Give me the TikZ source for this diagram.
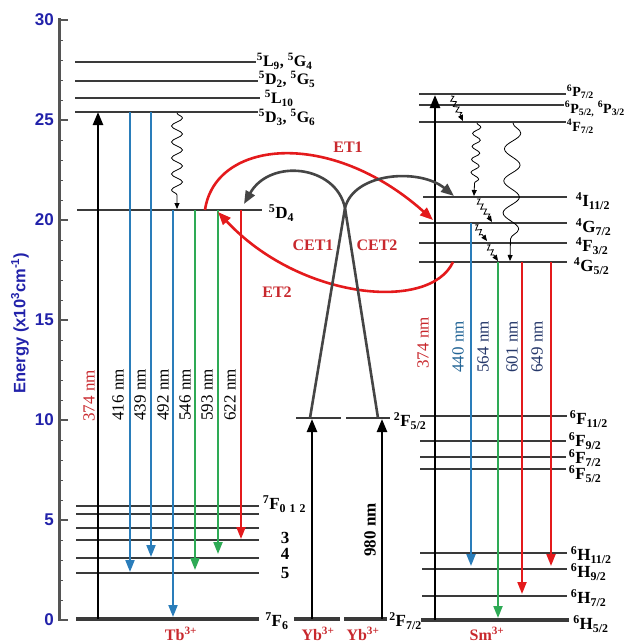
\documentclass[tikz,border=0pt]{standalone}
\usepackage{fontspec}
\setmainfont{Liberation Serif}
\setsansfont{Liberation Sans}
\usetikzlibrary{arrows.meta,decorations.pathmorphing}
\definecolor{lvlc}{HTML}{3A3A3A}
\definecolor{axc}{HTML}{555555}
\definecolor{axblue}{HTML}{2222AA}
\definecolor{eblue}{HTML}{2A7DBA}
\definecolor{egreen}{HTML}{2EAA55}
\definecolor{ered}{HTML}{E41A1C}
\definecolor{lred}{HTML}{C8282D}
\definecolor{navy}{HTML}{26386A}
\definecolor{cetc}{HTML}{454545}
\newcommand{\trm}[3]{\textsuperscript{#1}#2\textsubscript{#3}}
\newcommand{\fsz}{\fontsize{16}{18}\selectfont}
\newcommand{\fsl}{\fontsize{17}{19}\selectfont}
\begin{document}
\begin{tikzpicture}[x=1pt,y=-1pt,
  lvl/.style={draw=lvlc,line width=1.8},
  gnd/.style={draw=lvlc,line width=4.5},
  lab/.style={anchor=west,inner sep=0,font=\bfseries\fsl,text=black},
  tlab/.style={lab,font=\bfseries\fontsize{16}{18}\selectfont},
  plab/.style={lab,font=\bfseries\fontsize{14}{16}\selectfont},
  exc/.style={draw=black,line width=2.4,-{Triangle[length=13,width=10]}},
  emis/.style={line width=2,-{Triangle[length=12,width=9]}},
  wav/.style={draw=black,line width=0.8,decorate,-{Triangle[length=6,width=5]}},
  nm/.style={rotate=90,inner sep=0,font=\fsl},
  etarr/.style={draw=ered,line width=2.6,-{Triangle[length=13,width=10]}},
  cetarr/.style={draw=cetc,line width=2.6,-{Triangle[length=13,width=10]}},
  etlab/.style={text=lred,font=\bfseries\fsz,inner sep=0},
  ion/.style={text=lred,font=\bfseries\fsz,anchor=north,inner sep=0}]
\useasboundingbox (0,0) rectangle (632,643);
% axis
\draw[draw=axc,line width=3] (59,18) -- (59,621);
\foreach \e in {0,1,...,30}{
  \draw[draw=axc,line width=1] (59,{620-20*\e}) -- (63,{620-20*\e});}
\foreach \e in {0,5,...,30}{
  \draw[draw=axc,line width=1.5] (59,{620-20*\e}) -- (68,{620-20*\e});
  \node[anchor=east,inner sep=0,text=axblue,font=\sffamily\bfseries\fontsize{17}{19}\selectfont] (t\e) at (54,{620-20*\e}) {\e};}
\node[rotate=90,inner sep=0,text=axblue,font=\sffamily\bfseries\fontsize{16.5}{18}\selectfont] (ylab) at (20,323) {Energy (x10\textsuperscript{3}cm\textsuperscript{-1})};
% Tb levels
\draw[lvl] (75,62) -- (256,62) node[tlab,yshift=1] (lL9) {\trm{5}{L}{9}, \trm{5}{G}{4}};
\draw[lvl] (75,81) -- (258,81) node[tlab,yshift=2] (lD2) {\trm{5}{D}{2}, \trm{5}{G}{5}};
\draw[lvl] (75,98) -- (260,98) node[tlab,xshift=4,yshift=0] (lL10) {\trm{5}{L}{10}};
\draw[lvl] (75,112) -- (258,112) node[tlab,yshift=-5.5] (lD3) {\trm{5}{D}{3}, \trm{5}{G}{6}};
\draw[lvl] (77,210) -- (262,210) node[lab,xshift=6,yshift=-3] (lD4) {\trm{5}{D}{4}};
\draw[lvl] (76,506) -- (259,506) node[lab,xshift=3,yshift=2] (lF0) {\trm{7}{F}{0\,\,1\,\,2}};
\draw[lvl] (76,514) -- (259,514);
\draw[lvl] (76,528) -- (259,528);
\draw[lvl] (76,540) -- (259,540);
\draw[lvl] (76,558) -- (259,558);
\draw[lvl] (76,573) -- (259,573);
\node[lab,anchor=center] (lF3) at (285,538) {3};
\node[lab,anchor=center] (lF4) at (285,554) {4};
\node[lab,anchor=center] (lF5) at (285,573) {5};
\draw[gnd] (76,619) -- (259,619) node[lab,xshift=4,yshift=-2] (lF6) {\trm{7}{F}{6}};
% Yb levels
\draw[lvl] (296,418) -- (341,418);
\draw[lvl] (346,418) -- (390,418) node[lab,xshift=3,yshift=-3] (lF52) {\trm{2}{F}{5/2}};
\draw[gnd] (294,619) -- (340,619);
\draw[gnd] (344,619) -- (387,619) node[lab,xshift=0,yshift=-2] (lF72) {\trm{2}{F}{7/2}};
% Sm levels
\draw[lvl] (419,94) -- (566,94) node[plab,yshift=2] (lP7) {\trm{6}{P}{7/2}};
\draw[lvl] (419,105) -- (564,105) node[plab,yshift=-4] (lP5) {\trm{6}{P}{5/2,} \trm{6}{P}{3/2}};
\draw[lvl] (419,122) -- (566,122) node[plab,yshift=-4.5] (lF7) {\trm{4}{F}{7/2}};
\draw[lvl] (423,197) -- (567,197) node[lab,xshift=8,yshift=-4] (lI11) {\trm{4}{I}{11/2}};
\draw[lvl] (419,223) -- (567,223) node[lab,xshift=8,yshift=-4] (lG7) {\trm{4}{G}{7/2}};
\draw[lvl] (419,243) -- (567,243) node[lab,xshift=8,yshift=-3] (lF3) {\trm{4}{F}{3/2}};
\draw[lvl] (419,262) -- (567,262) node[lab,xshift=6,yshift=-4] (lG5) {\trm{4}{G}{5/2}};
\draw[lvl] (420,416) -- (567,416) node[lab,xshift=2,yshift=-3] (lF11) {\trm{6}{F}{11/2}};
\draw[lvl] (420,441) -- (566,441) node[lab,xshift=2,yshift=0] (lF9) {\trm{6}{F}{9/2}};
\draw[lvl] (420,457) -- (566,457) node[lab,xshift=2,yshift=-1] (lF7b) {\trm{6}{F}{7/2}};
\draw[lvl] (420,469) -- (566,469) node[lab,xshift=2,yshift=-5] (lF5b) {\trm{6}{F}{5/2}};
\draw[lvl] (420,553) -- (567,553) node[lab,xshift=3,yshift=-2] (lH11) {\trm{6}{H}{11/2}};
\draw[lvl] (422,569) -- (567,569) node[lab,xshift=3,yshift=-3] (lH9) {\trm{6}{H}{9/2}};
\draw[lvl] (422,596) -- (567,596) node[lab,xshift=3,yshift=-2] (lH7) {\trm{6}{H}{7/2}};
\draw[gnd] (421,620) -- (569,620) node[lab,xshift=2,yshift=-4] (lH5) {\trm{6}{H}{5/2}};
% Tb arrows
\draw[exc] (98,619) -- (98,112);
\draw[emis,draw=eblue] (130,112) -- (130,572);
\draw[emis,draw=eblue] (151,112) -- (151,557);
\draw[emis,draw=eblue] (173,210) -- (173,617);
\draw[emis,draw=egreen] (195,210) -- (195,570);
\draw[emis,draw=egreen] (218,210) -- (218,554);
\draw[emis,draw=ered] (241,210) -- (241,539);
\draw[wav,decoration={snake,amplitude=5.5,segment length=16,post length=7}] (177,113) -- (177,209);
\node[nm,text=lred] (n374a) at (89,396) {374 nm};
\node[nm] (n416) at (118,395) {416 nm};
\node[nm] (n439) at (140,395) {439 nm};
\node[nm] (n492) at (163,395) {492 nm};
\node[nm] (n546) at (185,395) {546 nm};
\node[nm] (n593) at (207,395) {593 nm};
\node[nm] (n622) at (230,395) {622 nm};
% Yb arrows
\draw[exc] (312,619) -- (312,419);
\draw[exc] (382,619) -- (382,419);
\node[nm,font=\bfseries\fsl] (n980) at (370,530) {980 nm};
% Sm arrows
\draw[exc] (435,620) -- (435,95);
\draw[emis,draw=eblue] (471,223) -- (471,566);
\draw[emis,draw=egreen] (498,262) -- (498,618);
\draw[emis,draw=ered] (522,262) -- (522,594);
\draw[emis,draw=ered] (551,262) -- (551,566);
\node[nm,text=lred] (n374b) at (423,343) {374 nm};
\node[nm,text=eblue!80!black] (n440) at (458,347) {440 nm};
\node[nm,text=navy] (n564) at (483,347) {564 nm};
\node[nm,text=navy] (n601) at (512,347) {601 nm};
\node[nm,text=navy] (n649) at (537,347) {649 nm};
\draw[wav,decoration={zigzag,amplitude=2.5,segment length=6,post length=6}] (451,96) -- (463,121);
\draw[wav,decoration={snake,amplitude=4,segment length=13,post length=7}] (477,123) -- (474,196);
\draw[wav,decoration={zigzag,amplitude=2.5,segment length=6,post length=6}] (477,199) -- (492,222);
\draw[wav,decoration={zigzag,amplitude=2.5,segment length=6,post length=6}] (475,225) -- (487,241);
\draw[wav,decoration={zigzag,amplitude=2.5,segment length=6,post length=6}] (487,245) -- (498,261);
\draw[wav,decoration={snake,amplitude=8,segment length=32,post length=8}] (513,123) -- (510,261);
% energy transfer
\coordinate (tbA) at (205,210);
\coordinate (smG7) at (433,220);
\coordinate (smG5) at (453,262);
\coordinate (tbB) at (218,212);
\coordinate (ybL) at (310,418);
\coordinate (ybR) at (378,418);
\coordinate (X) at (345,208);
\coordinate (smI) at (454,196);
\coordinate (tbC) at (244,204);
\draw[etarr] (tbA) .. controls (215,140) and (330,128) .. (smG7);
\draw[etarr] (smG5) .. controls (430,312) and (300,300) .. (tbB);
\draw[cetarr] (ybL) -- (X) .. controls (354,172) and (420,168) .. (smI);
\draw[cetarr] (ybR) -- (X) .. controls (336,165) and (270,158) .. (tbC);
\node[etlab] (et1) at (348,147) {ET1};
\node[etlab] (et2) at (277,292) {ET2};
\node[etlab] (cet1) at (313,245) {CET1};
\node[etlab] (cet2) at (377,245) {CET2};
% ion labels
\node[ion] (tb) at (181,627) {Tb\textsuperscript{3+}};
\node[ion] (yb1) at (318,627) {Yb\textsuperscript{3+}};
\node[ion] (yb2) at (363,627) {Yb\textsuperscript{3+}};
\node[ion] (sm) at (487,627) {Sm\textsuperscript{3+}};
\end{tikzpicture}
\end{document}
